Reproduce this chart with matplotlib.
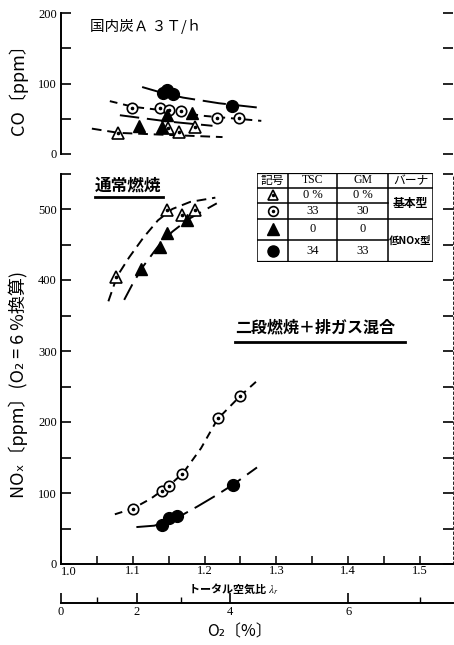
import matplotlib
matplotlib.use("Agg")
import matplotlib.pyplot as plt
from matplotlib.lines import Line2D
from matplotlib.ticker import MultipleLocator, FixedLocator

plt.rcParams["mathtext.fontset"] = "stix"
CJK = ["Noto Sans CJK JP", "DejaVu Sans"]
SERIF = ["Liberation Serif", "DejaVu Serif"]

# ---- CO panel (top): markers ----
co_otri_x = [1.079, 1.149, 1.164, 1.186]
co_otri_y = [30, 37, 31, 38]
co_ocirc_x = [1.099, 1.138, 1.150, 1.167, 1.217, 1.248]
co_ocirc_y = [65, 65, 62, 61, 51, 51]
co_ftri_x = [1.109, 1.140, 1.148, 1.182]
co_ftri_y = [40, 38, 55, 58]
co_fcirc_x = [1.142, 1.148, 1.156, 1.238]
co_fcirc_y = [87, 91, 85, 68]

# ---- CO panel: hand drawn trend lines ----
co_otri_line_x = [1.043, 1.080, 1.150, 1.225]
co_otri_line_y = [36, 30, 27, 24]
co_ocirc_line_x = [1.068, 1.100, 1.150, 1.200, 1.279]
co_ocirc_line_y = [75, 67, 61, 54, 47]
co_ftri_line_x = [1.082, 1.150, 1.211]
co_ftri_line_y = [55, 46, 40]
co_fcirc_line_x = [1.113, 1.140, 1.170, 1.220, 1.273]
co_fcirc_line_y = [95, 87, 80, 72, 66]

# ---- NOx panel (bottom): markers ----
nox_otri_x = [1.076, 1.147, 1.168, 1.186]
nox_otri_y = [404, 499, 492, 499]
nox_ftri_x = [1.111, 1.138, 1.147, 1.176]
nox_ftri_y = [415, 446, 466, 484]
nox_ocirc_x = [1.100, 1.141, 1.150, 1.169, 1.218, 1.250]
nox_ocirc_y = [78, 103, 110, 127, 205, 237]
nox_fcirc_x = [1.141, 1.151, 1.161, 1.239]
nox_fcirc_y = [55, 65, 68, 111]

# ---- NOx panel: hand drawn trend lines ----
nox_otri_line_x = [1.066, 1.078, 1.095, 1.115, 1.135, 1.155, 1.180, 1.215]
nox_otri_line_y = [370, 405, 432, 460, 484, 500, 510, 516]
nox_ftri_line_x = [1.088, 1.100, 1.115, 1.135, 1.155, 1.178, 1.217]
nox_ftri_line_y = [372, 395, 420, 447, 468, 486, 508]
nox_ocirc_line_x = [1.075, 1.100, 1.125, 1.150, 1.170, 1.195, 1.218, 1.250, 1.272]
nox_ocirc_line_y = [70, 78, 92, 110, 128, 163, 204, 237, 257]
nox_fcirc_line_x = [1.105, 1.130, 1.160, 1.190, 1.215, 1.240, 1.273]
nox_fcirc_line_y = [52, 54, 64, 81, 96, 112, 136]

# ---- legend table ----
tbl_header = ["記号", "TSC", "GM", "バーナ"]
tbl_tsc = ["0 %", "33", "0", "34"]
tbl_gm = ["0 %", "30", "0", "33"]
tbl_burner = ["基本型", "低NOx型"]

lam_ticks = [1.0, 1.1, 1.2, 1.3, 1.4, 1.5]
o2_major = [0, 2, 4, 6]
o2_minor = [1, 3, 7]

W, H = 454, 645
fig = plt.figure(figsize=(W / 100, H / 100), dpi=100)


def fx(px):
    return px / W


def fy(py):
    return 1 - py / H


XMIN, XMAX = 1.0, 1.546
ax_left, ax_right = 61, 453
ax_co = fig.add_axes([fx(ax_left), fy(154), fx(ax_right - ax_left), (154 - 13) / H])
ax_nox = fig.add_axes([fx(ax_left), fy(564), fx(ax_right - ax_left), (564 - 173.5) / H])

FILLED = dict(ls="none", color="black", zorder=4)


def open_dot(ax, x, y, marker, ms):
    ax.plot(x, y, ls="none", marker=marker, ms=ms, mfc="white", mec="black", mew=1.2, zorder=4)
    ax.plot(x, y, ls="none", marker="o", ms=1.6, color="black", zorder=5)


def trend(ax, x, y, dashes, lw=1.4):
    ax.plot(x, y, color="black", lw=lw, dashes=dashes, zorder=2)


# top panel
trend(ax_co, co_otri_line_x, co_otri_line_y, (5, 3))
trend(ax_co, co_ocirc_line_x, co_ocirc_line_y, (4, 3))
trend(ax_co, co_ftri_line_x, co_ftri_line_y, (10, 4))
trend(ax_co, co_fcirc_line_x, co_fcirc_line_y, (12, 4))
open_dot(ax_co, co_otri_x, co_otri_y, "^", 8)
open_dot(ax_co, co_ocirc_x, co_ocirc_y, "o", 7.5)
ax_co.plot(co_ftri_x, co_ftri_y, marker="^", ms=8.5, **FILLED)
ax_co.plot(co_fcirc_x, co_fcirc_y, marker="o", ms=8.5, **FILLED)

# bottom panel
trend(ax_nox, nox_otri_line_x, nox_otri_line_y, (5, 3))
trend(ax_nox, nox_ftri_line_x, nox_ftri_line_y, (9, 4))
trend(ax_nox, nox_ocirc_line_x, nox_ocirc_line_y, (4, 3))
trend(ax_nox, nox_fcirc_line_x, nox_fcirc_line_y, (12, 4))
open_dot(ax_nox, nox_otri_x, nox_otri_y, "^", 8)
open_dot(ax_nox, nox_ocirc_x, nox_ocirc_y, "o", 7.5)
ax_nox.plot(nox_ftri_x, nox_ftri_y, marker="^", ms=8.5, **FILLED)
ax_nox.plot(nox_fcirc_x, nox_fcirc_y, marker="o", ms=8.5, **FILLED)

# axes styling
for ax, ymax in ((ax_co, 200), (ax_nox, 550)):
    ax.set_xlim(XMIN, XMAX)
    ax.set_ylim(0, ymax)
    ax.tick_params(axis="y", direction="in", length=7, width=1.2, left=True, right=True,
                   labelsize=9, pad=3)
    ax.spines["top"].set_visible(False)
    ax.spines["left"].set_linewidth(1.4)
    ax.set_facecolor("none")

ax_co.set_yticks([0, 50, 100, 150, 200])
ax_co.set_yticklabels(["0", "", "100", "", "200"], family=SERIF)
ax_co.spines["bottom"].set_visible(False)
ax_co.spines["right"].set_visible(False)
ax_co.set_xticks([])

ax_nox.set_yticks(range(0, 551, 50))
ax_nox.set_yticklabels([str(v) if v % 100 == 0 and v <= 500 else "" for v in range(0, 551, 50)],
                       family=SERIF)
ax_nox.spines["right"].set_linewidth(0.6)
ax_nox.spines["right"].set_linestyle((0, (3, 3)))
ax_nox.spines["bottom"].set_linewidth(1.4)
ax_nox.set_xticks(lam_ticks)
ax_nox.xaxis.set_minor_locator(MultipleLocator(0.05))
ax_nox.tick_params(axis="x", which="both", direction="in", length=6, width=1.1, labelsize=9, pad=1)
# the corner label "1.0" sits right of its tick in the original, so it is placed by hand
ax_nox.set_xticklabels([""] + [f"{v:.1f}" for v in lam_ticks[1:]], family=SERIF)
ax_nox.text(lam_ticks[0], -0.006, f"{lam_ticks[0]:.1f}", transform=ax_nox.get_xaxis_transform(),
            family=SERIF, fontsize=9, ha="left", va="top")

# O2 scale under the air-ratio axis
sec = ax_nox.secondary_xaxis(-0.1, functions=(lambda lam: 21 * (1 - 1 / lam),
                                               lambda o2: 21 / (21 - o2)))
sec.xaxis.set_major_locator(FixedLocator(o2_major))
sec.xaxis.set_minor_locator(FixedLocator(o2_minor))
sec.tick_params(which="major", direction="in", length=7, width=1.2, labelsize=9, pad=2)
sec.tick_params(which="minor", direction="in", length=4, width=1.0)
sec.spines["bottom"].set_linewidth(1.4)
sec.set_xticklabels([str(v) for v in o2_major], family=SERIF)

# labels
fig.text(fx(233), fy(588), "トータル空気比 $\\lambda_r$", family=CJK, fontsize=8,
         fontweight="bold", ha="center", va="center")
fig.text(fx(240), fy(632), "O₂〔%〕", family=CJK, fontsize=11.5, ha="center", va="center")
fig.text(fx(18), fy(85), "CO〔ppm〕", family=CJK, fontsize=13, rotation=90,
         ha="center", va="center")
fig.text(fx(18), fy(385), "NOₓ〔ppm〕(O₂ = 6 %換算)", family=CJK, fontsize=13, rotation=90,
         ha="center", va="center")
fig.text(fx(90), fy(27), "国内炭Ａ ３Ｔ/ｈ", family=CJK, fontsize=10.5, ha="left", va="center")

fig.text(fx(95), fy(185), "通常燃焼", family=CJK, fontsize=12, fontweight="bold",
         ha="left", va="center")
fig.add_artist(Line2D([fx(95), fx(163)], [fy(197), fy(197)], color="black", lw=2))
fig.text(fx(235), fy(327), "二段燃焼＋排ガス混合", family=CJK, fontsize=11.5, fontweight="bold",
         ha="left", va="center")
fig.add_artist(Line2D([fx(235), fx(405)], [fy(342), fy(342)], color="black", lw=2))

# legend table
tb = fig.add_axes([fx(257), fy(262), fx(433 - 257), (262 - 173) / H])
tb.set_xlim(0, 176)
tb.set_ylim(89, 0)
tb.axis("off")
cols = [0, 31, 80, 131, 176]
rows = [0, 15, 30, 46, 67, 89]
lk = dict(color="black", lw=1.1)
for c in cols:
    tb.plot([c, c], [0, 89], **lk)
for r in (0, 15, 46, 89):
    tb.plot([0, 176], [r, r], **lk)
for r in (30, 67):
    tb.plot([0, 131], [r, r], **lk)
tb.plot([0, 176], [0, 0], color="black", lw=1.6)
tb.plot([0, 176], [89, 89], color="black", lw=1.6)

hx = [(cols[i] + cols[i + 1]) / 2 for i in range(4)]
for i, h in enumerate(tbl_header):
    fam = SERIF if h.isascii() else CJK
    tb.text(hx[i], 7.5, h, family=fam, fontsize=8.5, ha="center", va="center")
row_mid = [(rows[i] + rows[i + 1]) / 2 for i in range(1, 5)]
tb.plot(hx[0], row_mid[0], marker="^", ms=7, mfc="white", mec="black", mew=1.2)
tb.plot(hx[0], row_mid[0], marker="o", ms=1.5, color="black")
tb.plot(hx[0], row_mid[1], marker="o", ms=7, mfc="white", mec="black", mew=1.2)
tb.plot(hx[0], row_mid[1], marker="o", ms=1.5, color="black")
tb.plot(hx[0], row_mid[2], marker="^", ms=8, color="black")
tb.plot(hx[0], row_mid[3], marker="o", ms=8, color="black")
for i in range(4):
    tb.text(hx[1], row_mid[i], tbl_tsc[i], family=SERIF, fontsize=9, ha="center", va="center")
    tb.text(hx[2], row_mid[i], tbl_gm[i], family=SERIF, fontsize=9, ha="center", va="center")
tb.text(hx[3], (rows[1] + rows[3]) / 2, tbl_burner[0], family=CJK, fontsize=8.5,
        fontweight="bold", ha="center", va="center")
tb.text(hx[3], (rows[3] + rows[5]) / 2, tbl_burner[1], family=CJK, fontsize=7.5,
        fontweight="bold", ha="center", va="center")

fig.savefig("out.png", dpi=100)
